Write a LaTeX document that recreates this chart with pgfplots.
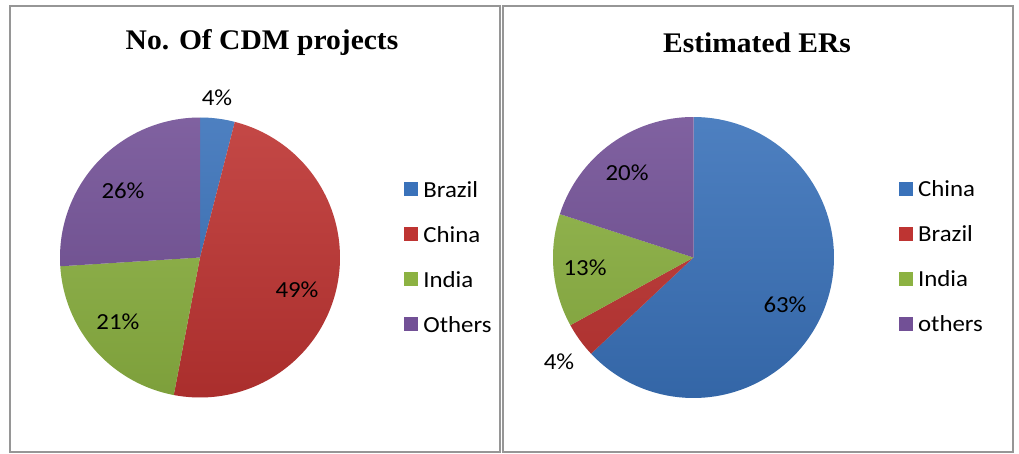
\documentclass[border=0pt]{standalone}
\usepackage{fontspec}
\setmainfont{Carlito}[FakeStretch=1.08]
\newfontfamily\titlefont{Liberation Serif}[FakeStretch=1.04]
\usepackage{pgfplots}
\usepackage{pgfplotstable}
\pgfplotsset{compat=1.18}

\definecolor{cBlue}{RGB}{58,114,186}
\definecolor{cRed}{RGB}{190,52,50}
\definecolor{cGreen}{RGB}{140,178,66}
\definecolor{cPurple}{RGB}{114,80,150}
\definecolor{boxgray}{RGB}{150,150,150}

\pgfplotstableread{
name value color
Brazil 4 cBlue
China 49 cRed
India 21 cGreen
Others 26 cPurple
}\cdmdata

\pgfplotstableread{
name value color
China 63 cBlue
Brazil 4 cRed
India 13 cGreen
others 20 cPurple
}\erdata

\newcommand\drawpie[1]{%
  \pgfplotstablegetrowsof{#1}%
  \pgfmathtruncatemacro\nrows{\pgfplotsretval-1}%
  \def\startang{90}%
  \pgfplotsforeachungrouped \i in {0,...,\nrows}{%
    \pgfplotstablegetelem{\i}{value}\of{#1}\let\val\pgfplotsretval
    \pgfplotstablegetelem{\i}{color}\of{#1}\let\col\pgfplotsretval
    \pgfplotstablegetelem{\i}{name}\of{#1}\let\nm\pgfplotsretval
    \pgfmathsetmacro\endang{\startang-3.6*\val}%
    \edef\tmp{\noexpand\addplot[fill=\col, draw=none, domain=\endang:\startang, samples=90, variable=\noexpand\t, forget plot] ({cos(\noexpand\t)},{sin(\noexpand\t)}) -- (axis cs:0,0) -- cycle;}%
    \tmp
    \edef\tmp{\noexpand\addlegendimage{fill=\col, draw=none}\noexpand\addlegendentry{\nm}}%
    \tmp
    \let\startang\endang
  }%
  \addplot[draw=none, top color=white, bottom color=black, fill opacity=0.10, domain=0:360, samples=120, forget plot] ({cos(x)},{sin(x)}) -- cycle;
}

\pgfplotsset{
  piestyle/.style={
    scale only axis, hide axis,
    xmin=-1, xmax=1, ymin=-1, ymax=1,
    clip=false,
    legend image code/.code={\fill[##1] (0pt,-7pt) rectangle (14pt,7pt);},
    legend cell align=left,
    legend style={draw=none, fill=none, anchor=north west, inner sep=0pt,
      row sep=29pt,
      font=\fontsize{23}{27}\selectfont,
      nodes={inner sep=0pt, text height=16pt, text depth=0pt},
      /tikz/every odd column/.append style={column sep=5pt}},
  },
}

\begin{document}
\begin{tikzpicture}[x=1pt,y=1pt]
\useasboundingbox (0,0) rectangle (1019,453);
\fill[white] (0,0) rectangle (1019,453);
\draw[boxgray, line width=1.2pt] (10,1) rectangle (500,447);
\draw[boxgray, line width=1.2pt] (503,1) rectangle (1013,447);

\node[font=\titlefont\bfseries\fontsize{28.4}{32}\selectfont] at (262,410) {No. Of CDM projects};
\node[font=\titlefont\bfseries\fontsize{28.4}{32}\selectfont] at (757,410) {Estimated ERs};

\begin{axis}[piestyle, width=280pt, height=280pt,
  at={(200pt,195.5pt)}, anchor=center,
  legend style={at={(1.229,0.773)}}]
\drawpie{\cdmdata}
\node[font=\fontsize{23}{27}\selectfont] at (axis cs:0.121,1.14) {4\%};
\node[font=\fontsize{23}{27}\selectfont] at (axis cs:0.693,-0.232) {49\%};
\node[font=\fontsize{23}{27}\selectfont] at (axis cs:-0.586,-0.461) {21\%};
\node[font=\fontsize{23}{27}\selectfont] at (axis cs:-0.55,0.475) {26\%};
\end{axis}

\begin{axis}[piestyle, width=281pt, height=281pt,
  at={(693.5pt,195.5pt)}, anchor=center,
  legend style={at={(1.231,0.773)}}]
\drawpie{\erdata}
\node[font=\fontsize{23}{27}\selectfont] at (axis cs:0.651,-0.338) {63\%};
\node[font=\fontsize{23}{27}\selectfont] at (axis cs:-0.957,-0.744) {4\%};
\node[font=\fontsize{23}{27}\selectfont] at (axis cs:-0.772,-0.075) {13\%};
\node[font=\fontsize{23}{27}\selectfont] at (axis cs:-0.473,0.601) {20\%};
\end{axis}
\end{tikzpicture}
\end{document}
